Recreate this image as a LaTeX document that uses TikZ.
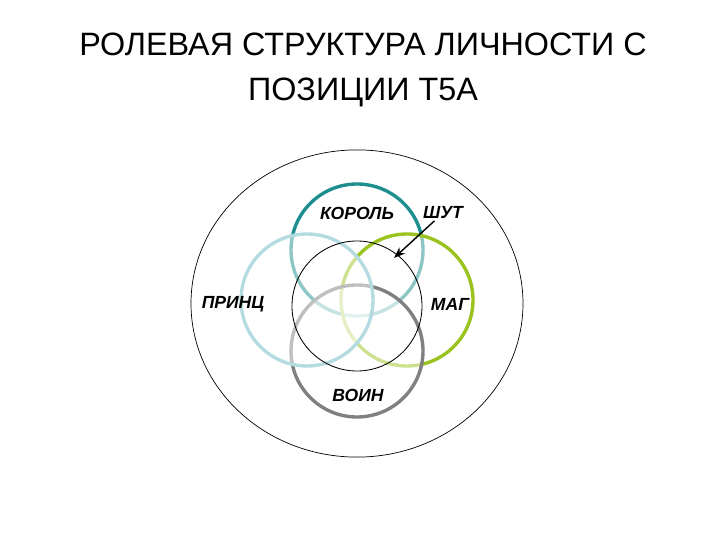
\documentclass[tikz,border=0pt]{standalone}
\usepackage{fontspec}
\setmainfont{Liberation Sans}
\usepackage{tikz}
\usetikzlibrary{arrows.meta}
\pgfdeclarelayer{bg}
\pgfsetlayers{bg,main}
\definecolor{kingteal}{RGB}{30,142,142}
\definecolor{princeblue}{RGB}{180,220,224}
\definecolor{magegreen}{RGB}{155,195,30}
\definecolor{warriorgray}{RGB}{128,128,128}

\begin{document}
\begin{tikzpicture}[
    ring/.style={circle, minimum size=3.3cm, inner sep=0pt, line width=2.4pt, fill=white, fill opacity=0.5},
    role/.style={font=\fontsize{12.5}{14}\selectfont\bfseries\itshape, inner sep=1pt}
]
    \useasboundingbox (0cm, 0cm) rectangle (18cm, 13.5cm);

    \node (title) [align=center, font=\fontsize{23}{32}\selectfont] at (9.075cm, 11.75cm) {РОЛЕВАЯ СТРУКТУРА ЛИЧНОСТИ С\\ПОЗИЦИИ Т5А};

    \node (king) [role] at (8.925cm, 8.175cm) {КОРОЛЬ};
    \node (jester) [role] at (11.075cm, 8.175cm) {ШУТ};
    \node (prince) [role] at (5.825cm, 5.9cm) {ПРИНЦ};
    \node (mage) [role] at (11.25cm, 5.9cm) {МАГ};
    \node (warrior) [role] at (8.95cm, 3.625cm) {ВОИН};
    \coordinate (jtip) at (9.85cm, 7.05cm);

    \begin{pgfonlayer}{bg}
        \draw [line width=0.5pt] (8.925cm, 5.9125cm) ellipse (4.15cm and 3.84cm);
        \node (kingring) [ring, draw=kingteal] at (8.925cm, 7.25cm) {};
        \node (magering) [ring, draw=magegreen] at (10.175cm, 6.0cm) {};
        \node (warriorring) [ring, draw=warriorgray] at (8.925cm, 4.725cm) {};
        \node (princering) [ring, draw=princeblue] at (7.675cm, 6.0cm) {};
        \node (core) [circle, minimum size=3.25cm, inner sep=0pt, draw, line width=0.6pt] at (8.925cm, 5.85cm) {};
    \end{pgfonlayer}

    \draw [-{Stealth[length=8pt, width=6pt]}, line width=1pt] (jester) -- (jtip);
\end{tikzpicture}
\end{document}
